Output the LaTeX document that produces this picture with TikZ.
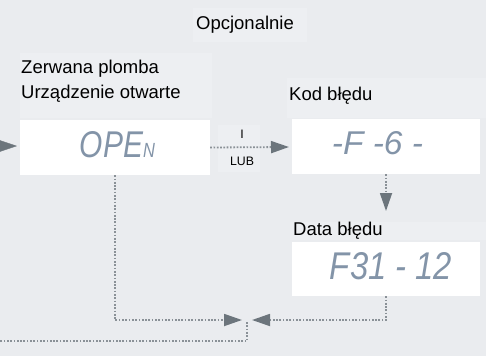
\documentclass[tikz,border=0pt]{standalone}
\usepackage{fontspec}
\usepackage{graphicx}
\setmainfont{Liberation Sans}
\usetikzlibrary{arrows.meta}
\definecolor{bgc}{HTML}{EAECEF}
\definecolor{lblbg}{HTML}{EDEFF2}
\definecolor{linec}{HTML}{8A9197}
\definecolor{headc}{HTML}{6C757C}
\definecolor{segc}{HTML}{8394A8}
\tikzset{
  lbl/.style={font=\fontsize{18.5}{22}\selectfont, inner sep=0pt, text=black},
  small/.style={font=\fontsize{12.3}{14}\selectfont, inner sep=0pt, text=black},
  display/.style={fill=white, draw=none, inner sep=0pt},
  seg/.style={inner sep=0pt, text=segc, font=\itshape},
  dotline/.style={draw=linec, line width=1.8pt, dash pattern=on 1.7pt off 1.6pt},
  tip/.style={-{Triangle[length=18pt,width=12pt,fill=headc,color=headc]}},
}
\begin{document}
\begin{tikzpicture}[x=1pt,y=-1pt]
\useasboundingbox (0,0) rectangle (486,356);
\clip (0,0) rectangle (486,356);
\fill[bgc] (0,0) rectangle (486,356);
% subtle label backgrounds
\fill[lblbg] (193,8) rectangle (307,42);
\fill[lblbg] (20,53) rectangle (212,118);
\fill[lblbg] (287,78) rectangle (486,118);
\fill[lblbg] (218,125) rectangle (260,172);
\fill[lblbg] (290,222) rectangle (486,240);
% texts
\node[lbl, anchor=base] (opc) at (245,29) {Opcjonalnie};
\node[lbl, anchor=base west] (zer) at (21,73) {Zerwana plomba};
\node[lbl, anchor=base west] (urz) at (21,98) {Urządzenie otwarte};
\node[lbl, anchor=base west] (kodl) at (289,100) {Kod błędu};
\node[lbl, anchor=base west] (datal) at (293,235) {Data błędu};
\node[small, anchor=base] (i) at (242,138) {I};
\node[small, anchor=base] (lub) at (242,165) {LUB};
% display boxes
\node[display, minimum width=190pt, minimum height=55pt] (open) at (115,147.5) {};
\node[display, minimum width=188pt, minimum height=55pt] (kod) at (386,146.5) {};
\node[display, minimum width=188pt, minimum height=54pt] (data) at (386,269) {};
\node[seg] (opent) at (117.5,144.5) {\resizebox{75pt}{26pt}{OPE\scalebox{0.55}{N}}};
\node[seg] (kodt) at (377.5,143.5) {\resizebox{91pt}{23pt}{-F -6 -}};
\node[seg] (datat) at (391,266.5) {\resizebox{122pt}{27pt}{F31 - 12}};
% coordinates
\coordinate (inl) at (-10,146);
\coordinate (inr) at (17,146);
\coordinate (jl) at (242,320);
\coordinate (jr) at (252,320);
\coordinate (jb) at (247,322);
\coordinate (jc) at (247,341);
\coordinate (outl) at (-5,341);
\coordinate (kodend) at (386,211);
\coordinate (kodin) at (289,147);
% connectors
\draw[tip] (inl) -- (inr);
\draw[dotline, tip] (open.east) -- (kodin);
\draw[dotline, tip] (kod.south) -- (kodend);
\draw[dotline, tip] (open.south) |- (jl);
\draw[dotline, tip] (data.south) |- (jr);
\draw[dotline] (jb) -- (jc) -- (outl);
\end{tikzpicture}
\end{document}
